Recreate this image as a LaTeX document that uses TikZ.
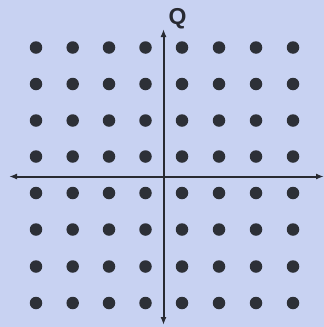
\documentclass[tikz,border=0pt]{standalone}
\usepackage{fontspec}
\setmainfont{Liberation Sans}
\usetikzlibrary{arrows.meta}
\definecolor{bg}{RGB}{200,210,242}
\definecolor{dotc}{RGB}{45,48,55}
\definecolor{axc}{RGB}{40,42,50}
\tikzset{
  pt/.style={circle,fill=dotc,inner sep=0pt,minimum size=12.5pt},
  axis/.style={draw=axc,line width=2pt,{Latex[length=8pt,width=6pt]}-{Latex[length=8pt,width=6pt]}}
}
\begin{document}
\begin{tikzpicture}[x=1pt,y=-1pt]
\fill[bg] (0,0) rectangle (324,327);
\useasboundingbox (0,0) rectangle (324,327);
\foreach \i/\xx in {1/36,2/72.7,3/109,4/145.5,5/182,6/219,7/256,8/293}{
  \foreach \j/\yy in {1/47.5,2/84,3/120.5,4/156.5,5/193,6/229.5,7/266.5,8/303}{
    \node[pt] (d\i\j) at (\xx,\yy) {};
  }
}
\coordinate (top) at (163.5,29);
\coordinate (bot) at (163.5,325);
\coordinate (lft) at (9,176.5);
\coordinate (rgt) at (324,176.5);
\draw[axis] (bot) -- (top);
\draw[axis] (lft) -- (rgt);
\node[font=\bfseries\fontsize{23}{23}\selectfont,text=axc,inner sep=0pt] (q) at (177.5,18.5) {Q};
\end{tikzpicture}
\end{document}
